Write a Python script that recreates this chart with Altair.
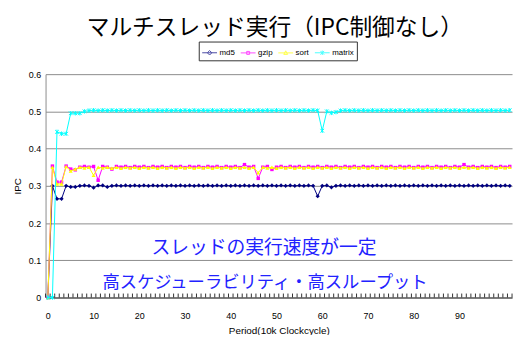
import altair as alt
import pandas as pd

# ---------------- data ----------------
periods = list(range(102))

md5 = [0.0, 0.300, 0.265, 0.265, 0.300, 0.297, 0.297, 0.300, 0.301, 0.300,
       0.295, 0.301, 0.301, 0.297, 0.300, 0.301, 0.300, 0.301, 0.300, 0.301,
       0.300, 0.301, 0.300, 0.301, 0.300, 0.301, 0.300, 0.301, 0.300, 0.301,
       0.300, 0.301, 0.300, 0.301, 0.300, 0.301, 0.300, 0.301, 0.300, 0.301,
       0.300, 0.301, 0.300, 0.301, 0.300, 0.301, 0.300, 0.301, 0.300, 0.301,
       0.300, 0.301, 0.300, 0.301, 0.300, 0.301, 0.300, 0.301, 0.300, 0.272,
       0.300, 0.301, 0.296, 0.300, 0.301, 0.300, 0.301, 0.300, 0.301, 0.300,
       0.301, 0.300, 0.301, 0.300, 0.301, 0.300, 0.301, 0.300, 0.301, 0.300,
       0.301, 0.300, 0.301, 0.300, 0.301, 0.300, 0.301, 0.300, 0.301, 0.300,
       0.301, 0.300, 0.301, 0.300, 0.301, 0.300, 0.301, 0.300, 0.301, 0.300,
       0.301, 0.300]

gzip = [0.0, 0.353, 0.310, 0.310, 0.353, 0.345, 0.343, 0.350, 0.352, 0.350,
        0.352, 0.315, 0.352, 0.350, 0.345, 0.352, 0.350, 0.352, 0.349, 0.352,
        0.350, 0.352, 0.349, 0.352, 0.350, 0.352, 0.349, 0.352, 0.350, 0.352,
        0.349, 0.352, 0.350, 0.352, 0.349, 0.352, 0.350, 0.352, 0.349, 0.352,
        0.350, 0.352, 0.349, 0.357, 0.350, 0.352, 0.320, 0.350, 0.352, 0.344,
        0.350, 0.352, 0.349, 0.352, 0.350, 0.352, 0.349, 0.352, 0.350, 0.352,
        0.349, 0.352, 0.350, 0.352, 0.349, 0.352, 0.350, 0.352, 0.349, 0.352,
        0.350, 0.352, 0.349, 0.352, 0.350, 0.352, 0.349, 0.352, 0.350, 0.352,
        0.349, 0.352, 0.350, 0.352, 0.349, 0.352, 0.350, 0.352, 0.349, 0.352,
        0.350, 0.357, 0.350, 0.352, 0.349, 0.352, 0.350, 0.352, 0.349, 0.352,
        0.350, 0.352]

sort = [0.0, 0.350, 0.305, 0.305, 0.352, 0.340, 0.345, 0.350, 0.348, 0.350,
        0.328, 0.350, 0.348, 0.350, 0.347, 0.350, 0.347, 0.350, 0.348, 0.350,
        0.347, 0.350, 0.348, 0.350, 0.347, 0.350, 0.348, 0.350, 0.347, 0.350,
        0.348, 0.350, 0.347, 0.350, 0.348, 0.350, 0.347, 0.350, 0.348, 0.350,
        0.347, 0.350, 0.348, 0.350, 0.347, 0.350, 0.335, 0.350, 0.348, 0.350,
        0.347, 0.350, 0.348, 0.350, 0.347, 0.350, 0.348, 0.350, 0.347, 0.350,
        0.348, 0.350, 0.347, 0.350, 0.348, 0.350, 0.347, 0.350, 0.348, 0.350,
        0.347, 0.350, 0.348, 0.350, 0.347, 0.350, 0.348, 0.350, 0.347, 0.350,
        0.348, 0.350, 0.347, 0.350, 0.348, 0.350, 0.347, 0.350, 0.348, 0.350,
        0.347, 0.350, 0.348, 0.350, 0.347, 0.350, 0.348, 0.350, 0.347, 0.350,
        0.348, 0.350]

matrix = [0.0, 0.0, 0.445, 0.440, 0.440, 0.495, 0.495, 0.495, 0.500, 0.502,
          0.503, 0.502, 0.503, 0.502, 0.503, 0.502, 0.503, 0.502, 0.503, 0.502,
          0.503, 0.502, 0.503, 0.502, 0.503, 0.502, 0.503, 0.502, 0.503, 0.502,
          0.503, 0.502, 0.503, 0.502, 0.503, 0.502, 0.503, 0.502, 0.503, 0.502,
          0.503, 0.502, 0.503, 0.502, 0.503, 0.502, 0.503, 0.502, 0.503, 0.502,
          0.503, 0.502, 0.503, 0.502, 0.503, 0.502, 0.503, 0.502, 0.503, 0.502,
          0.448, 0.500, 0.496, 0.498, 0.502, 0.503, 0.502, 0.503, 0.502, 0.503,
          0.502, 0.503, 0.502, 0.503, 0.502, 0.503, 0.502, 0.503, 0.502, 0.503,
          0.502, 0.503, 0.502, 0.503, 0.502, 0.503, 0.502, 0.503, 0.502, 0.503,
          0.502, 0.503, 0.502, 0.503, 0.502, 0.503, 0.502, 0.503, 0.502, 0.503,
          0.502, 0.503]

series_names = ["md5", "gzip", "sort", "matrix"]
series_values = [md5, gzip, sort, matrix]
series_colors = ["#000080", "#FF00FF", "#FFFF00", "#00FFFF"]

x_label_values = [0, 10, 20, 30, 40, 50, 60, 70, 80, 90]
x_tick_bounds = [k - 0.5 for k in range(103)]
y_tick_values = [0, 0.1, 0.2, 0.3, 0.4, 0.5, 0.6]

title_text = "マルチスレッド実行（IPC制御なし）"
note_line1 = "スレッドの実行速度が一定"
note_line2 = "高スケジューラビリティ・高スループット"
x_title = "Period(10k Clockcycle)"
y_title = "IPC"

# ---------------- build ----------------
W, H = 472, 226
AXFONT = "Liberation Sans"
JPFONT = "Noto Sans CJK JP"

frames = []
for name, vals in zip(series_names, series_values):
    frames.append(pd.DataFrame({"period": periods, "value": vals, "series": name}))
df = pd.concat(frames, ignore_index=True)

xscale = alt.Scale(domain=[-0.5, 101.5], nice=False, zero=False)
yscale = alt.Scale(domain=[0, 0.6], nice=False)

x_axis = alt.Axis(values=x_label_values, ticks=False, grid=False,
                  domainColor="#333333", labelFontSize=9, labelFont=AXFONT,
                  labelPadding=14, labelColor="#000000", labelOverlap=False,
                  title=x_title, titleFontSize=10, titleFont=AXFONT,
                  titleFontWeight="normal", titlePadding=5, titleColor="#000000")
y_axis = alt.Axis(values=y_tick_values, ticks=False, grid=True,
                  gridColor="#8c8c8c", gridWidth=1, domainColor="#8c8c8c",
                  labelExpr="datum.value == 0 ? '0' : format(datum.value, '.1f')",
                  labelFontSize=9, labelFont=AXFONT, labelPadding=5,
                  labelColor="#000000", labelOverlap=False,
                  title=y_title, titleFontSize=10, titleFont=AXFONT,
                  titleFontWeight="normal", titleColor="#000000",
                  titleX=-28, titleY=H / 2, titleAlign="center",
                  titleBaseline="middle", titleAngle=270)

def xe(field):
    return alt.X(field, type="quantitative", scale=xscale, axis=x_axis, title=x_title)

def ye(field):
    return alt.Y(field, type="quantitative", scale=yscale, axis=y_axis, title=y_title)

marker_shapes = ["diamond", "square", "triangle-up", "M-1,-1L1,1M-1,1L1,-1M0,-1.2L0,1.2"]
marker_filled = [True, True, True, False]
marker_sizes = [18, 12, 16, 14]

layers = []

# inside tick marks on the category axis
ticks_df = pd.DataFrame({"b": x_tick_bounds})
tick_layer = alt.Chart(ticks_df).mark_rule(color="#333333", strokeWidth=1).encode(
    x=xe("b"), y=alt.value(H), y2=alt.value(H - 4))
layers.append(tick_layer)

for i, (name, color) in enumerate(zip(series_names, series_colors)):
    sub = df[df["series"] == name]
    base = alt.Chart(sub)
    line = base.mark_line(color=color, strokeWidth=1).encode(x=xe("period"), y=ye("value"))
    pts = base.mark_point(shape=marker_shapes[i], filled=marker_filled[i], color=color,
                          size=marker_sizes[i], strokeWidth=1, opacity=1).encode(
        x=xe("period"), y=ye("value"))
    layers += [line, pts]

# legend (line + marker symbols) from an empty helper layer
legend_paths = [
    "M-1,0L1,0M0,-0.3L0.3,0L0,0.3L-0.3,0Z",
    "M-1,0L1,0M-0.2,-0.2L0.2,-0.2L0.2,0.2L-0.2,0.2Z",
    "M-1,0L1,0M0,-0.28L0.26,0.2L-0.26,0.2Z",
    "M-1,0L1,0M-0.25,-0.25L0.25,0.25M-0.25,0.25L0.25,-0.25M0,-0.3L0,0.3",
]
leg = alt.Legend(orient="none", legendX=155, legendY=-33, direction="horizontal",
                 title=None, labelFontSize=8, labelFont=AXFONT, labelColor="#000000",
                 symbolSize=225, symbolStrokeWidth=1, strokeColor="#333333",
                 padding=3, columnPadding=3, labelOffset=2, fillColor="white")
legend_layer = alt.Chart(df).mark_point(filled=False, strokeWidth=1).encode(
    color=alt.Color("series:N", scale=alt.Scale(domain=series_names, range=series_colors),
                    legend=leg),
    shape=alt.Shape("series:N", scale=alt.Scale(domain=series_names, range=legend_paths),
                    legend=leg),
).transform_filter("false")
layers.append(legend_layer)

title = alt.Chart(pd.DataFrame({"t": [title_text]})).mark_text(
    font=JPFONT, fontSize=23, color="#000000", align="center", baseline="alphabetic").encode(
    x=alt.value(232), y=alt.value(-40), text="t:N")
n1 = alt.Chart(pd.DataFrame({"t": [note_line1]})).mark_text(
    font=JPFONT, fontSize=19, color="#2222ff", align="center", baseline="alphabetic").encode(
    x=alt.value(221), y=alt.value(182), text="t:N")
n2 = alt.Chart(pd.DataFrame({"t": [note_line2]})).mark_text(
    font=JPFONT, fontSize=17.5, color="#2222ff", align="center", baseline="alphabetic").encode(
    x=alt.value(222), y=alt.value(216), text="t:N")
layers += [title, n1, n2]

chart = alt.layer(*layers).properties(
    width=W, height=H,
    autosize=alt.AutoSizeParams(type="none"),
    padding={"left": 38, "top": 65, "right": 3, "bottom": 36},
    background="white",
).configure_view(stroke=None)

chart.save("out.html", embed_options={"renderer": "svg", "actions": False})
